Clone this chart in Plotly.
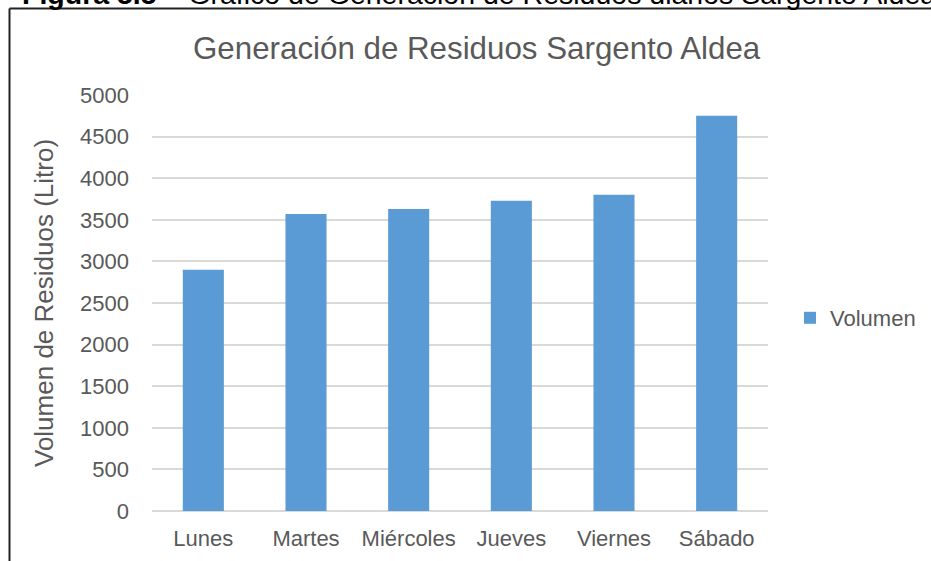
import plotly.graph_objects as go

categories = ["Lunes", "Martes", "Miércoles", "Jueves", "Viernes", "Sábado"]
volumen = [2900, 3570, 3630, 3730, 3800, 4750]
y_ticks = [0, 500, 1000, 1500, 2000, 2500, 3000, 3500, 4000, 4500, 5000]

W, H = 931, 561
L, R, T, B = 152, 163, 95, 50
pw, ph = W - L - R, H - T - B

def px_x(x):
    return (x - L) / pw

def px_y(y):
    return (H - B - y) / ph

FONT = "Liberation Sans, Arial, sans-serif"
GREY = "#595959"

fig = go.Figure()
fig.add_trace(go.Bar(
    x=categories, y=volumen, name="Volumen",
    marker=dict(color="#5b9bd5", line=dict(width=0)),
    showlegend=True,
))

fig.update_layout(
    width=W, height=H,
    margin=dict(l=L, r=R, t=T, b=B, pad=0, autoexpand=False),
    paper_bgcolor="white", plot_bgcolor="white",
    bargap=0.6,
    font=dict(family=FONT, color=GREY, size=22),
    showlegend=True,
    legend=dict(x=px_x(790), y=px_y(318), xanchor="left", yanchor="middle",
                font=dict(size=22, color=GREY, family=FONT),
                bgcolor="rgba(0,0,0,0)", itemsizing="constant"),
    xaxis=dict(showgrid=False, showline=False, ticks="", tickfont=dict(size=22, color=GREY),
               ticklabelstandoff=12),
    yaxis=dict(range=[0, 5000], tickvals=y_ticks, showgrid=True, gridcolor="#d9d9d9",
               gridwidth=1.5, zeroline=True, zerolinecolor="#d9d9d9", zerolinewidth=1.5,
               showline=False, ticks="", tickfont=dict(size=22, color=GREY),
               ticklabelstandoff=22,
               title=dict(text="Volumen de Residuos (Litro)", font=dict(size=26, color=GREY),
                          standoff=18)),
    annotations=[
        dict(text="Generación de Residuos Sargento Aldea", x=px_x(477), y=px_y(48),
             xref="paper", yref="paper", showarrow=False, xanchor="center", yanchor="middle",
             font=dict(size=31.3, color=GREY, family=FONT)),
        dict(text="<b>Figura 5.5</b> – Gráfico de Generación de Residuos diarios Sargento Aldea",
             x=px_x(20), y=px_y(-6.5), xref="paper", yref="paper", showarrow=False,
             xanchor="left", yanchor="middle",
             font=dict(size=28.5, color="black", family=FONT)),
    ],
    shapes=[
        dict(type="line", xref="paper", yref="paper", x0=px_x(9.5), x1=px_x(931),
             y0=px_y(8.5), y1=px_y(8.5), line=dict(color="#222", width=2)),
        dict(type="line", xref="paper", yref="paper", x0=px_x(9.5), x1=px_x(9.5),
             y0=px_y(8.5), y1=px_y(561), line=dict(color="#222", width=2)),
    ],
)

fig.write_html("out.html", config={"displayModeBar": False},
               post_script="document.body.style.margin='0';")
